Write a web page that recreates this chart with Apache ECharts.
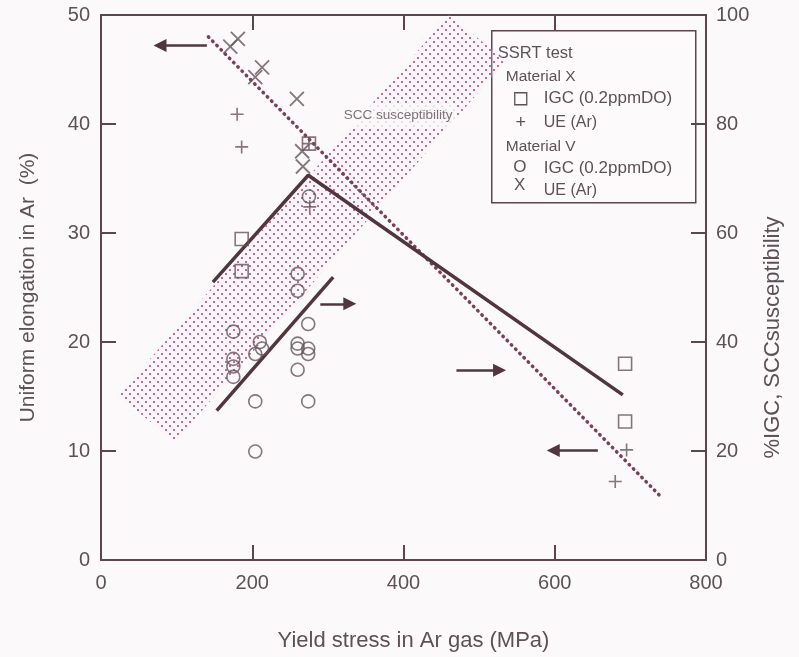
<!DOCTYPE html>
<html>
<head>
<meta charset="utf-8">
<script src="https://cdn.jsdelivr.net/npm/echarts@6/dist/echarts.min.js"></script>
<style>
  html, body { margin: 0; padding: 0; background: #fbf9fa; }
  #chart { width: 799px; height: 657px; }
</style>
</head>
<body>
<div id="chart"></div>
<script>
// Axis ranges and ticks
const stressTicks = [0, 200, 400, 600, 800];
const elongTicks = [0, 10, 20, 30, 40, 50];
const pctTicks = [0, 20, 40, 60, 80, 100];

// Material X, IGC (0.2ppmDO) — %IGC (right axis)
const matXIgcStress = [275, 186, 186, 693, 693];
const matXIgcPct = [76.4, 58.9, 53.0, 36.0, 25.4];

// Material X, UE (Ar) — uniform elongation (left axis)
const matXUeStress = [180, 186, 275, 276, 695, 680];
const matXUeElong = [40.9, 37.9, 38.2, 32.4, 10.1, 7.2];

// Material V, IGC (0.2ppmDO) — %IGC (right axis)
const matVIgcStress = [260, 260, 275, 175, 175, 175, 175, 210, 213, 204, 204, 204, 274, 260, 260, 274, 274, 260, 274];
const matVIgcPct = [52.5, 49.4, 66.7, 41.9, 36.9, 35.5, 33.6, 40.0, 38.8, 37.8, 29.1, 19.9, 43.3, 39.7, 38.8, 38.8, 37.8, 34.9, 29.1];

// Material V, UE (Ar) — uniform elongation (left axis)
const matVUeStress = [181, 171, 213, 204, 259, 266, 267];
const matVUeElong = [47.8, 47.1, 45.2, 44.3, 42.3, 37.5, 36.1];

// Trend lines
const ueTrendStress = [142, 739];
const ueTrendElong = [48.0, 5.9];
const igcTrendXStress = [148, 274, 690];
const igcTrendXPct = [51.0, 70.6, 30.3];
const igcTrendVStress = [153, 307];
const igcTrendVPct = [27.4, 51.9];

// SCC susceptibility band: rotated rectangle (corners, left-axis units)
const bandStress = [22.5, 97.9, 535.5, 460.2];
const bandElong = [15.08, 10.88, 45.8, 50.0];
const sccLabelStress = 393;
const sccLabelElong = 40.8;

// Arrows pointing to the axis each curve belongs to (left-axis units)
const arrowFromStress = [140, 290, 470, 657];
const arrowToStress = [78, 329, 527, 598];
const arrowElong = [47.2, 23.5, 17.4, 10.05];

const INK = '#5a464f';
const TEXT = '#5d5157';
const FONT = '"Liberation Sans", Arial, Helvetica, sans-serif';

// staggered dot fill used for the SCC susceptibility band
function makeDots() {
  const c = document.createElement('canvas');
  c.width = 8; c.height = 8;
  const g = c.getContext('2d');
  g.fillStyle = 'rgba(248,234,242,0.25)';
  g.fillRect(0, 0, 8, 8);
  g.fillStyle = '#ac3f78';
  [[2, 2], [6, 6]].forEach(p => {
    g.beginPath(); g.arc(p[0], p[1], 1.0, 0, Math.PI * 2); g.fill();
  });
  return c;
}
const dots = makeDots();

const zip = (a, b) => a.map((v, i) => [v, b[i]]);

const chart = echarts.init(document.getElementById('chart'), null, { renderer: 'canvas' });

const mkLine = () => ({ show: true, onZero: false, lineStyle: { color: INK, width: 2 } });
const mkTick = () => ({ show: true, inside: true, length: 15, lineStyle: { color: INK, width: 2 } });

const option = {
  backgroundColor: '#fbf9fa',
  animation: false,
  grid: { left: 101, right: 93, top: 15, bottom: 95, show: false },
  xAxis: [
    {
      type: 'value', position: 'bottom', min: stressTicks[0], max: stressTicks[stressTicks.length - 1], interval: 200,
      axisLine: mkLine(), axisTick: mkTick(), splitLine: { show: false },
      axisLabel: { color: TEXT, fontSize: 20, fontFamily: FONT, margin: 13 },
      name: 'Yield stress in Ar gas (MPa)', nameLocation: 'middle', nameGap: 70,
      nameTextStyle: { color: TEXT, fontSize: 22, fontFamily: FONT, padding: [0, 0, 0, 20] }
    },
    {
      type: 'value', position: 'top', min: stressTicks[0], max: stressTicks[stressTicks.length - 1], interval: 200,
      axisLine: mkLine(), axisTick: mkTick(), splitLine: { show: false }, axisLabel: { show: false }
    }
  ],
  yAxis: [
    {
      type: 'value', position: 'left', min: elongTicks[0], max: elongTicks[elongTicks.length - 1], interval: 10,
      axisLine: mkLine(), axisTick: mkTick(), splitLine: { show: false },
      axisLabel: { color: TEXT, fontSize: 20, fontFamily: FONT, margin: 11 },
      name: 'Uniform elongation in Ar  (%)', nameLocation: 'middle', nameGap: 62, nameRotate: 90,
      nameTextStyle: { color: TEXT, fontSize: 21, fontFamily: FONT }
    },
    {
      type: 'value', position: 'right', min: pctTicks[0], max: pctTicks[pctTicks.length - 1], interval: 20,
      axisLine: mkLine(), axisTick: mkTick(), splitLine: { show: false },
      axisLabel: { color: TEXT, fontSize: 20, fontFamily: FONT, margin: 10 },
      name: '%IGC, SCCsusceptibility', nameLocation: 'middle', nameGap: 56, nameRotate: 90,
      nameTextStyle: { color: TEXT, fontSize: 22, fontFamily: FONT, padding: [0, 100, 0, 0] }
    }
  ],
  series: [
    {
      name: 'SCC band', type: 'custom', xAxisIndex: 0, yAxisIndex: 0, clip: true, z: 1,
      data: [[bandStress[0], bandElong[0]]],
      renderItem: (params, api) => ({
        type: 'polygon',
        shape: { points: bandStress.map((s, i) => api.coord([s, bandElong[i]])) },
        style: { fill: { image: dots, repeat: 'repeat' } }
      })
    },
    {
      name: 'SCC label', type: 'scatter', xAxisIndex: 0, yAxisIndex: 0, z: 3,
      symbolSize: 0, silent: true,
      data: [[sccLabelStress, sccLabelElong]],
      label: {
        show: true, position: 'inside', formatter: 'SCC susceptibility',
        color: TEXT, fontSize: 13.5, fontFamily: FONT,
        backgroundColor: '#fbf9fa', padding: [2, 4, 9, 4]
      }
    },
    {
      name: 'UE trend', type: 'line', xAxisIndex: 0, yAxisIndex: 0, z: 4,
      data: zip(ueTrendStress, ueTrendElong), symbol: 'none',
      lineStyle: { color: '#7a3f5a', width: 3.5, type: [0.5, 5.5], cap: 'round' }
    },
    {
      name: 'IGC trend X', type: 'line', xAxisIndex: 0, yAxisIndex: 1, z: 4,
      data: zip(igcTrendXStress, igcTrendXPct), symbol: 'none',
      lineStyle: { color: '#52363d', width: 3.5 }
    },
    {
      name: 'IGC trend V', type: 'line', xAxisIndex: 0, yAxisIndex: 1, z: 4,
      data: zip(igcTrendVStress, igcTrendVPct), symbol: 'none',
      lineStyle: { color: '#52363d', width: 3.5 }
    },
    {
      name: 'Axis arrows', type: 'lines', coordinateSystem: 'cartesian2d', xAxisIndex: 0, yAxisIndex: 0, z: 4,
      symbol: ['none', 'triangle'], symbolSize: [8, 13],
      lineStyle: { color: '#52363d', width: 2.5, opacity: 1 },
      data: arrowFromStress.map((s, i) => ({ coords: [[s, arrowElong[i]], [arrowToStress[i], arrowElong[i]]] }))
    },
    {
      name: 'Material X IGC', type: 'scatter', xAxisIndex: 0, yAxisIndex: 1, z: 5,
      symbol: 'rect', symbolSize: 13,
      itemStyle: { color: 'rgba(0,0,0,0)', borderColor: '#66555d', borderWidth: 1.6 },
      data: zip(matXIgcStress, matXIgcPct)
    },
    {
      name: 'Material X UE', type: 'scatter', xAxisIndex: 0, yAxisIndex: 0, z: 5,
      symbol: 'path://M5,0L5,10M0,5L10,5', symbolSize: 13,
      itemStyle: { color: 'rgba(0,0,0,0)', borderColor: '#66555d', borderWidth: 1.6 },
      data: zip(matXUeStress, matXUeElong)
    },
    {
      name: 'Material V IGC', type: 'scatter', xAxisIndex: 0, yAxisIndex: 1, z: 5,
      symbol: 'circle', symbolSize: 13,
      itemStyle: { color: 'rgba(0,0,0,0)', borderColor: '#66555d', borderWidth: 1.6 },
      data: zip(matVIgcStress, matVIgcPct)
    },
    {
      name: 'Material V UE', type: 'scatter', xAxisIndex: 0, yAxisIndex: 0, z: 5,
      symbol: 'path://M0,0L10,10M10,0L0,10', symbolSize: 14,
      itemStyle: { color: 'rgba(0,0,0,0)', borderColor: '#66555d', borderWidth: 1.8 },
      data: zip(matVUeStress, matVUeElong)
    }
  ],
  graphic: [
    {
      type: 'group', left: 491, top: 30, z: 100,
      children: [
        { type: 'rect', shape: { x: 0, y: 0, width: 204, height: 172 },
          style: { fill: '#fcfafb', stroke: INK, lineWidth: 1.5 } },
        { type: 'text', x: 6, y: 23, style: { text: 'SSRT test', fill: TEXT, font: '16.5px ' + FONT, textVerticalAlign: 'middle' } },
        { type: 'text', x: 14, y: 46, style: { text: 'Material X', fill: TEXT, font: '15.5px ' + FONT, textVerticalAlign: 'middle' } },
        { type: 'rect', shape: { x: 23, y: 62, width: 12, height: 12 },
          style: { fill: 'none', stroke: TEXT, lineWidth: 1.3 } },
        { type: 'text', x: 52, y: 68, style: { text: 'IGC (0.2ppmDO)', fill: TEXT, font: '17px ' + FONT, textVerticalAlign: 'middle' } },
        { type: 'text', x: 29, y: 92, style: { text: '+', fill: TEXT, font: '18px ' + FONT, textAlign: 'center', textVerticalAlign: 'middle' } },
        { type: 'text', x: 52, y: 92, style: { text: 'UE (Ar)', fill: TEXT, font: '16px ' + FONT, textVerticalAlign: 'middle' } },
        { type: 'text', x: 14, y: 116, style: { text: 'Material V', fill: TEXT, font: '15.5px ' + FONT, textVerticalAlign: 'middle' } },
        { type: 'text', x: 28, y: 137, style: { text: 'O', fill: TEXT, font: '17px ' + FONT, textAlign: 'center', textVerticalAlign: 'middle' } },
        { type: 'text', x: 52, y: 138, style: { text: 'IGC (0.2ppmDO)', fill: TEXT, font: '17px ' + FONT, textVerticalAlign: 'middle' } },
        { type: 'text', x: 28, y: 155, style: { text: 'X', fill: TEXT, font: '17px ' + FONT, textAlign: 'center', textVerticalAlign: 'middle' } },
        { type: 'text', x: 52, y: 160, style: { text: 'UE (Ar)', fill: TEXT, font: '16px ' + FONT, textVerticalAlign: 'middle' } }
      ]
    }
  ]
};

chart.setOption(option);
</script>
</body>
</html>
